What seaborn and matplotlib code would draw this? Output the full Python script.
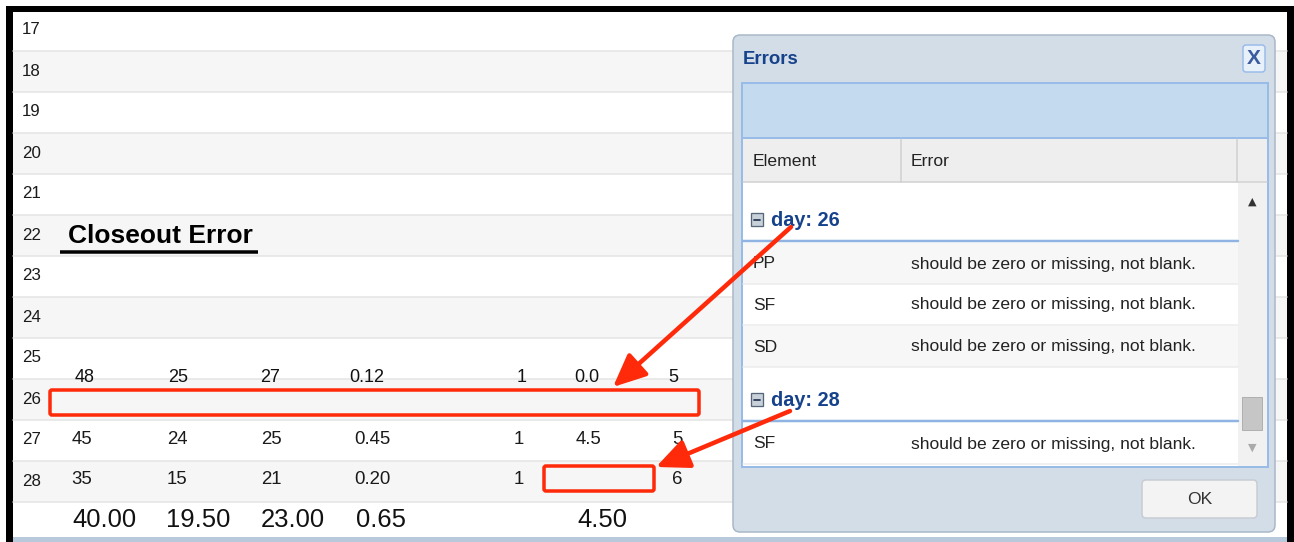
import matplotlib
matplotlib.use("Agg")
import matplotlib.pyplot as plt
import seaborn as sns
from matplotlib import font_manager
from matplotlib.patches import Rectangle, FancyBboxPatch

# ---------------------------------------------------------
# Data
# ---------------------------------------------------------
row_numbers = [17, 18, 19, 20, 21, 22, 23, 24, 25, 26, 27, 28]
sheet_title = "Closeout Error"

day_26 = ["48", "25", "27", "0.12", "1", "0.0", "5"]
day_27 = ["45", "24", "25", "0.45", "1", "4.5", "5"]
day_28 = ["35", "15", "21", "0.20", "1", "", "6"]
totals = ["40.00", "19.50", "23.00", "0.65", "", "4.50"]

error_days = ["day: 26", "day: 28"]
error_elements = [["PP", "SF", "SD"], ["SF"]]
error_message = "should be zero or missing, not blank."
header_labels = ["Element", "Error"]

# ---------------------------------------------------------
# Style
# ---------------------------------------------------------
sns.set_theme(style="white")
installed = {f.name for f in font_manager.fontManager.ttflist}
if "Liberation Sans Narrow" in installed:
    NARROW, NSCALE = "Liberation Sans Narrow", 1.0
else:
    NARROW, NSCALE = "Liberation Sans", 0.84
plt.rcParams["font.family"] = ["Liberation Sans", "DejaVu Sans"]

RED = "#ff2a0a"
BLUE_TXT = "#15428b"
PANEL_EDGE = "#99bbe8"

fig = plt.figure(figsize=(12.94, 5.42), dpi=100)
ax = fig.add_axes([0, 0, 1, 1])
ax.set_xlim(0, 1294)
ax.set_ylim(542, 0)
ax.axis("off")


def px(n):
    # pixels -> points for line widths
    return n * 0.72


def ntext(x, y, s, size, **kw):
    ax.text(x, y, s, fontsize=size * NSCALE, family=NARROW, **kw)


# ---------------------------------------------------------
# Spreadsheet background (striped rows)  -> zorder 1-2
# ---------------------------------------------------------
ax.add_patch(Rectangle((6, 6), 1288, 536, facecolor="black", edgecolor="none", zorder=0))
ax.add_patch(Rectangle((13, 12), 1274, 530, facecolor="white", edgecolor="none", zorder=0.5))
top = 12
row_h = 41
for i, r in enumerate(row_numbers):
    y0 = 10 + i * row_h
    y1 = y0 + row_h
    if r % 2 == 0:
        ax.add_patch(Rectangle((13, max(y0, top)), 1274, y1 - max(y0, top),
                               facecolor="#f6f6f6", edgecolor="none", zorder=1))
    ax.plot([13, 1287], [y1, y1], color="#e4e4e4", lw=px(1.5), zorder=1.5)
    ntext(22, y0 + 20, str(r), 14.5, color="#1a1a1a", va="center", ha="left", zorder=2)
ax.add_patch(Rectangle((13, 537), 1274, 5, facecolor="#b9c9dc", edgecolor="none", zorder=1.5))

# title with underline
ax.text(68, 236, sheet_title, fontsize=19, fontweight="bold", color="black",
        va="center", ha="left", zorder=2)
ax.plot([60, 258], [251.5, 251.5], color="black", lw=px(3.5), solid_capstyle="butt", zorder=2)

# values
x_26 = [85, 178, 270, 367, 522, 587, 673]
x_27 = [82, 177, 271, 372, 519, 589, 677]
for x, v in zip(x_26, day_26):
    ax.text(x, 377, v, fontsize=13, color="#111111", ha="center", va="center", zorder=2)
for x, v in zip(x_27, day_27):
    ntext(x, 440, v, 16, color="#1a1a1a", ha="center", va="center", zorder=2)
for x, v in zip(x_27, day_28):
    ntext(x, 480, v, 16, color="#1a1a1a", ha="center", va="center", zorder=2)
x_tot = [104, 198, 293, 381, 0, 602]
for x, v in zip(x_tot, totals):
    ntext(x, 520, v, 22, color="#111111", ha="center", va="center", zorder=2)

# red highlight boxes
ax.add_patch(FancyBboxPatch((50, 390), 649, 25, boxstyle="round,pad=0,rounding_size=2",
                            facecolor="none", edgecolor=RED, lw=px(3.5), zorder=9))
ax.add_patch(FancyBboxPatch((544, 466), 110, 25, boxstyle="round,pad=0,rounding_size=2",
                            facecolor="none", edgecolor=RED, lw=px(3.5), zorder=9))

# ---------------------------------------------------------
# Errors dialog  -> zorder 3-8
# ---------------------------------------------------------
ax.add_patch(FancyBboxPatch((733, 35), 542, 497, boxstyle="round,pad=0,rounding_size=7",
                            facecolor="#d3dde8", edgecolor="#a8b7c7", lw=px(1.5), zorder=3))
ax.text(743, 60, "Errors", fontsize=16 * NSCALE, family=NARROW, fontweight="bold",
        color=BLUE_TXT, va="center", ha="left", zorder=5)
ax.add_patch(FancyBboxPatch((1243, 45), 22, 27, boxstyle="round,pad=0,rounding_size=3",
                            facecolor="#e8f0fa", edgecolor=PANEL_EDGE, lw=px(1.5), zorder=4))
ax.text(1254, 59, "X", fontsize=15, fontweight="bold", color="#3b5b9e",
        ha="center", va="center", zorder=5)

# toolbar strip
ax.add_patch(Rectangle((742, 83), 526, 55, facecolor="#c4daef", edgecolor=PANEL_EDGE,
                       lw=px(2), zorder=4))
# grid area
ax.add_patch(Rectangle((742, 138), 526, 329, facecolor="white", edgecolor=PANEL_EDGE,
                       lw=px(2), zorder=4))
ax.add_patch(Rectangle((743, 139), 524, 43, facecolor="#eeeeee", edgecolor="none", zorder=4.2))
ax.plot([743, 1267], [182, 182], color="#d0d0d0", lw=px(1.5), zorder=4.5)
for xs in [901, 1237]:
    ax.plot([xs, xs], [139, 182], color="#d0d0d0", lw=px(1.5), zorder=4.5)
ntext(753, 161, header_labels[0], 15, color="#222222", va="center", ha="left", zorder=5)
ntext(911, 161, header_labels[1], 15, color="#222222", va="center", ha="left", zorder=5)

# scrollbar
ax.add_patch(Rectangle((1238, 183), 29, 283, facecolor="#f1f1f1", edgecolor="none", zorder=4.2))
ax.text(1252, 202, "\u25b2", fontsize=8, color="#333333", ha="center", va="center",
        family="DejaVu Sans", zorder=5)
ax.text(1252, 448, "\u25bc", fontsize=8, color="#aaaaaa", ha="center", va="center",
        family="DejaVu Sans", zorder=5)
ax.add_patch(Rectangle((1242, 397), 20, 33, facecolor="#c6c6c6", edgecolor="#b0b0b0",
                       lw=px(1), zorder=5))

# groups and error rows
group_y = [220, 400]
row_y = [[263, 304, 346], [443]]
for gy, label, rows_y, elems in zip(group_y, error_days, row_y, error_elements):
    ax.add_patch(Rectangle((751, gy - 7), 12, 13, facecolor="#c8d0da", edgecolor="#56657a",
                           lw=px(1.3), zorder=5))
    ax.plot([754, 760], [gy - 0.5, gy - 0.5], color="#2a3a55", lw=px(1.8), zorder=5.5)
    ax.text(771, gy, label, fontsize=17 * NSCALE, family=NARROW, fontweight="bold",
            color=BLUE_TXT, va="center", ha="left", zorder=5)
    ax.plot([743, 1238], [gy + 21, gy + 21], color="#8fb4e3", lw=px(2.5), zorder=5)
    for k, (ry, el) in enumerate(zip(rows_y, elems)):
        if len(elems) > 1 and k % 2 == 0:
            ax.add_patch(Rectangle((743, ry - 20), 495, 41, facecolor="#f7f7f7",
                                   edgecolor="none", zorder=4.3))
        ax.plot([743, 1238], [ry + 21, ry + 21], color="#ececec", lw=px(1.5), zorder=4.5)
        ntext(753, ry + 1, el, 15, color="#222222", va="center", ha="left", zorder=5)
        ntext(911, ry + 1, error_message, 15, color="#222222", va="center", ha="left", zorder=5)

# OK button
ax.add_patch(FancyBboxPatch((1142, 480), 115, 38, boxstyle="round,pad=0,rounding_size=4",
                            facecolor="#f3f3f3", edgecolor="#c8ccd2", lw=px(1.5), zorder=4))
ntext(1200, 500, "OK", 15, color="#333333", ha="center", va="center", zorder=5)

# ---------------------------------------------------------
# Arrows (on top of everything)
# ---------------------------------------------------------
arrow = dict(arrowstyle="-|>,head_length=1.0,head_width=0.45", color=RED, lw=px(4.5),
             mutation_scale=20, shrinkA=0, shrinkB=0)
ax.annotate("", xy=(613, 387), xytext=(791, 227), arrowprops=arrow, zorder=10)
ax.annotate("", xy=(656, 467), xytext=(790, 411), arrowprops=arrow, zorder=10)

plt.savefig("out.png", dpi=100)
